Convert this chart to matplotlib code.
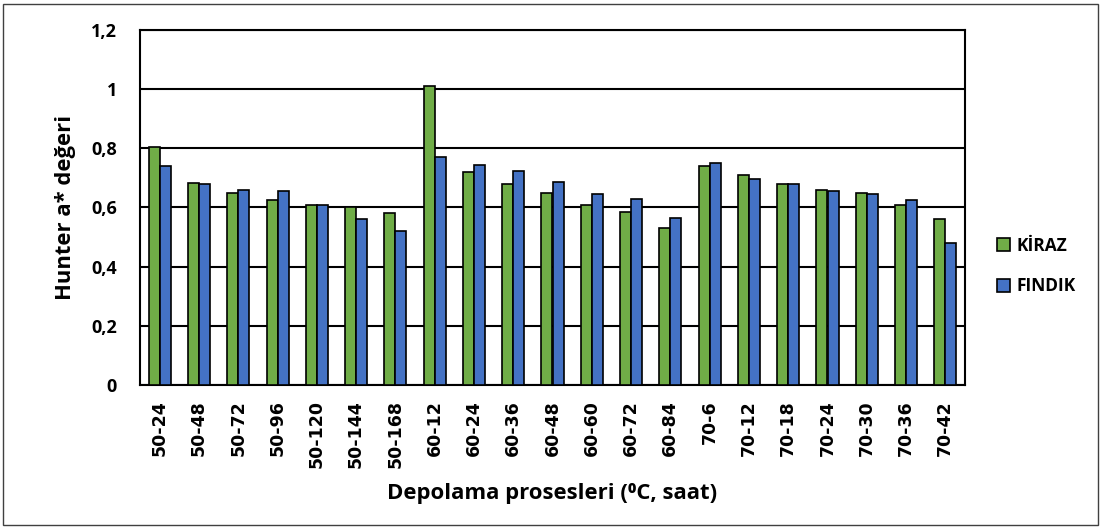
import matplotlib
matplotlib.use("Agg")
import matplotlib.pyplot as plt
import numpy as np
from matplotlib.patches import Rectangle
from matplotlib.ticker import FuncFormatter

categories = ["50-24", "50-48", "50-72", "50-96", "50-120", "50-144", "50-168",
              "60-12", "60-24", "60-36", "60-48", "60-60", "60-72", "60-84",
              "70-6", "70-12", "70-18", "70-24", "70-30", "70-36", "70-42"]
kiraz = [0.805, 0.684, 0.65, 0.625, 0.61, 0.60, 0.58,
         1.01, 0.72, 0.68, 0.65, 0.61, 0.585, 0.53,
         0.74, 0.71, 0.68, 0.66, 0.65, 0.61, 0.56]
findik = [0.74, 0.68, 0.66, 0.655, 0.61, 0.56, 0.52,
          0.77, 0.745, 0.725, 0.685, 0.645, 0.63, 0.565,
          0.75, 0.695, 0.68, 0.655, 0.645, 0.625, 0.48]
yticks = [0, 0.2, 0.4, 0.6, 0.8, 1.0, 1.2]

green = "#70ad47"
blue = "#4472c4"
label_font = ["Open Sans", "DejaVu Sans"]
W, H = 1102, 529

fig = plt.figure(figsize=(W / 100, H / 100), dpi=100)
ax = fig.add_axes([140 / W, 1 - 385 / H, 825 / W, 355 / H])

x = np.arange(len(categories))
w = 0.28
ax.bar(x - w / 2, kiraz, w, color=green, edgecolor="black", linewidth=1.2, label="KİRAZ", zorder=3)
ax.bar(x + w / 2, findik, w, color=blue, edgecolor="black", linewidth=1.2, label="FINDIK", zorder=3)

ax.set_xlim(-0.5, len(categories) - 0.5)
ax.set_ylim(0, 1.2)
ax.set_yticks(yticks)
ax.yaxis.set_major_formatter(FuncFormatter(lambda v, p: ("%g" % round(v, 1)).replace(".", ",")))
ax.set_xticks(x)
ax.set_xticklabels(categories, rotation=90, fontsize=12.5, fontweight="bold", family="DejaVu Sans")
for t in ax.get_yticklabels():
    t.set_fontsize(13)
    t.set_fontweight("bold")
    t.set_family(label_font)
ax.tick_params(axis="x", length=0, pad=11)
ax.tick_params(axis="y", length=0, pad=16.5)
ax.grid(axis="y", color="black", linewidth=1.5, zorder=0)
for s in ax.spines.values():
    s.set_color("black")
    s.set_linewidth(1.5)

ylab = ax.set_ylabel("Hunter a* değeri", fontsize=18, fontweight="bold", family=label_font)
xlab = ax.set_xlabel("Depolama prosesleri (⁰C, saat)", fontsize=18, fontweight="bold", family=label_font)
ax.yaxis.set_label_coords((66 - 140) / 825, 0.5)
ax.xaxis.set_label_coords(0.5, (385 - 494) / 355)
ylab.set_va("center")
xlab.set_va("center")

# scale the axis titles to the widths seen in the chart
r = fig.canvas.get_renderer()
xw = xlab.get_window_extent(r).width
xlab.set_fontsize(18 * 330 / xw)
yh = ylab.get_window_extent(r).height
ylab.set_fontsize(18 * 185 / yh)

fig.legend(loc="center left", bbox_to_anchor=(981 / W, 1 - 266 / H), frameon=False,
           prop={"family": label_font, "weight": "bold", "size": 12.5},
           handlelength=0.75, handleheight=0.75, labelspacing=1.3, handletextpad=0.4)

fig.patches.append(Rectangle((3 / W, 4 / H), 1095 / W, 521 / H, transform=fig.transFigure,
                             fill=False, edgecolor="#404040", linewidth=1))

fig.savefig("out.png", dpi=100)
